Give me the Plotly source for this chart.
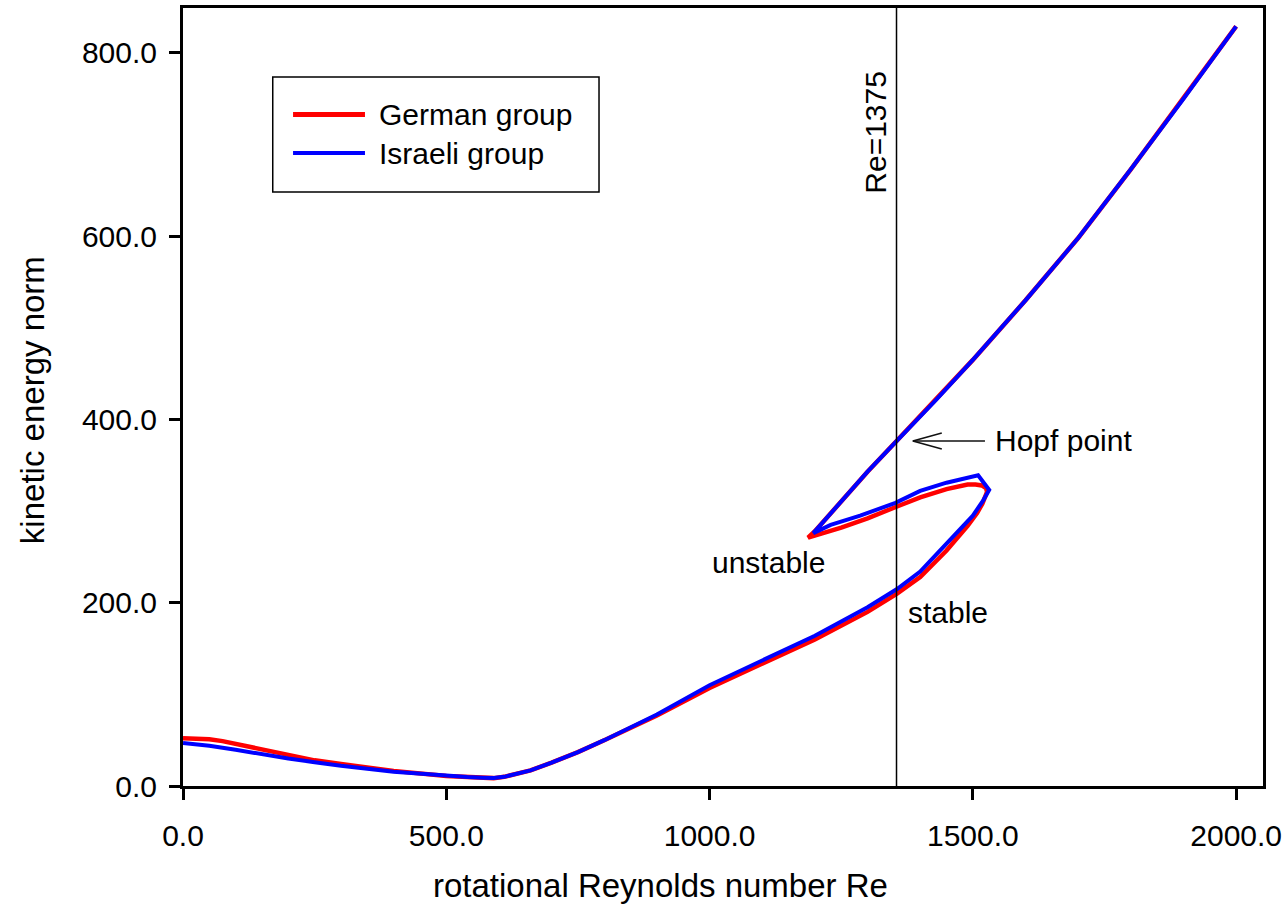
import plotly.graph_objects as go

# ---- data ----
# Israeli group: lower (stable) branch -> fold -> middle branch -> left fold -> upper branch
isr_re = [0, 50, 100, 150, 200, 250, 300, 400, 500, 540, 570, 590, 610, 630, 660, 700, 750, 800, 900,
          1000, 1100, 1200, 1300, 1356, 1400, 1450, 1500, 1520, 1531,
          1510, 1450, 1400, 1353, 1286, 1230, 1197,
          1250, 1300, 1356, 1431, 1500, 1600, 1700, 1800, 1900, 2000]
isr_e = [47, 44, 39.5, 34.5, 30, 26, 22, 15.5, 11, 9.8, 9.0, 8.7, 10, 12.5, 17, 25.5, 37, 50, 78,
         110, 137, 164, 195, 215, 234, 265, 295, 312, 323,
         339, 331, 322, 309, 295, 285, 276,
         310, 343, 377, 422, 465, 530, 598, 673, 750, 829]

ger_re = [0, 25, 50, 75, 100, 125, 150, 175, 200, 250, 300, 400, 500, 540, 570, 590, 610, 630, 660,
          700, 750, 800, 900,
          1000, 1100, 1200, 1300, 1356, 1400, 1450, 1490, 1508, 1518, 1524, 1527,
          1525, 1517, 1505, 1490, 1450, 1400, 1356, 1300, 1250, 1200, 1187,
          1200, 1250, 1300, 1356, 1431, 1500, 1600, 1700, 1800, 1900, 2000]
ger_e = [52, 52, 51, 49, 46, 42.5, 39, 36, 33, 28, 24, 16.5, 11, 9.8, 9.0, 8.6, 10, 12.5, 17,
         25.5, 37, 50, 77,
         107, 133, 160, 190, 210, 228, 257, 284, 298, 308, 316, 321,
         325, 328, 329, 329, 324, 315, 305, 292, 282, 273, 271,
         278, 310, 343, 377, 422, 465, 530, 598, 673, 750, 829]

x_ticks = [0, 500, 1000, 1500, 2000]
y_ticks = [0, 200, 400, 600, 800]

re_line = 1355          # drawn position of the "Re=1375" marker line
hopf_e = 376.5

FONT = "Arial, Liberation Sans, sans-serif"
RED = "#ff0000"
BLUE = "#0000ff"

fig = go.Figure()
fig.add_trace(go.Scatter(x=ger_re, y=ger_e, mode="lines", name="German group",
                         line=dict(color=RED, width=4.5), showlegend=False))
fig.add_trace(go.Scatter(x=isr_re, y=isr_e, mode="lines", name="Israeli group",
                         line=dict(color=BLUE, width=4), showlegend=False))

axis_common = dict(showline=True, linecolor="black", linewidth=3, mirror=True,
                   ticks="outside", ticklen=11, tickwidth=2.5, tickcolor="black",
                   showgrid=False, zeroline=False, tickformat=".1f",
                   tickfont=dict(family=FONT, size=30, color="black"))

fig.update_xaxes(range=[0, 2051], tickvals=x_ticks, ticklabelstandoff=10, **axis_common)
fig.update_yaxes(range=[0, 849], tickvals=y_ticks, ticklabelstandoff=6, **axis_common)

shapes = []
# vertical reference line
shapes.append(dict(type="line", xref="x", yref="paper", x0=re_line, x1=re_line, y0=0, y1=1,
                   line=dict(color="black", width=1.5)))
# Hopf arrow
shapes.append(dict(type="line", xref="x", yref="y", x0=1386, x1=1523, y0=hopf_e, y1=hopf_e,
                   line=dict(color="#111111", width=1.5)))
shapes.append(dict(type="line", xref="x", yref="y", x0=1386, x1=1441, y0=hopf_e, y1=hopf_e + 8.8,
                   line=dict(color="#111111", width=1.5)))
shapes.append(dict(type="line", xref="x", yref="y", x0=1386, x1=1441, y0=hopf_e, y1=hopf_e - 8.8,
                   line=dict(color="#111111", width=1.5)))
# legend box
shapes.append(dict(type="rect", xref="paper", yref="paper", x0=0.0831, x1=0.3852, y0=0.7635, y1=0.9113,
                   line=dict(color="black", width=1.5), fillcolor="white", layer="below"))
shapes.append(dict(type="line", xref="paper", yref="paper", x0=0.1019, x1=0.1685, y0=0.8631, y1=0.8631,
                   line=dict(color=RED, width=5)))
shapes.append(dict(type="line", xref="paper", yref="paper", x0=0.1019, x1=0.1685, y0=0.8136, y1=0.8136,
                   line=dict(color=BLUE, width=4)))

tf = dict(family=FONT, size=30, color="black")
annotations = [
    dict(text="German group", xref="paper", yref="paper", x=0.1796, y=0.8631, xanchor="left",
         yanchor="middle", showarrow=False, font=tf),
    dict(text="Israeli group", xref="paper", yref="paper", x=0.1796, y=0.8136, xanchor="left",
         yanchor="middle", showarrow=False, font=tf),
    dict(text="Re=1375", xref="x", yref="y", x=1316, y=714, textangle=-90, xanchor="center",
         yanchor="middle", showarrow=False, font=tf),
    dict(text="Hopf point", xref="x", yref="y", x=1538, y=hopf_e, xanchor="left",
         yanchor="middle", showarrow=False, font=tf),
    dict(text="unstable", xref="x", yref="y", x=1111, y=244, xanchor="center",
         yanchor="middle", showarrow=False, font=tf),
    dict(text="stable", xref="x", yref="y", x=1452, y=189, xanchor="center",
         yanchor="middle", showarrow=False, font=tf),
    dict(text="rotational Reynolds number Re", xref="paper", yref="paper", x=0.4417, y=-0.1285,
         xanchor="center", yanchor="middle", showarrow=False,
         font=dict(family=FONT, size=33, color="black")),
    dict(text="kinetic energy norm", xref="paper", yref="paper", x=-0.1398, y=0.496,
         textangle=-90, xanchor="center", yanchor="middle", showarrow=False,
         font=dict(family=FONT, size=33, color="black")),
]

fig.update_layout(width=1287, height=914, margin=dict(l=183, r=24, t=8, b=128, autoexpand=False),
                  plot_bgcolor="white", paper_bgcolor="white",
                  shapes=shapes, annotations=annotations, showlegend=False)

fig.write_html("out.html")
